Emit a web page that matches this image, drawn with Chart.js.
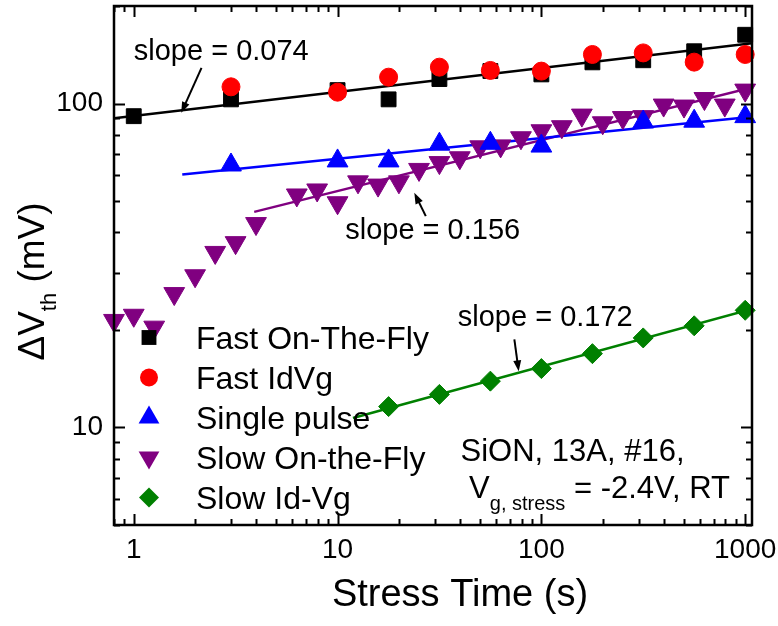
<!DOCTYPE html>
<html>
<head>
<meta charset="utf-8">
<script src="https://cdn.jsdelivr.net/npm/chart.js@4.4.0/dist/chart.umd.min.js"></script>
<style>
  html, body { margin: 0; padding: 0; background: #fff; }
  #wrap { width: 778px; height: 626px; }
</style>
</head>
<body>
<div id="wrap"><canvas id="chart" width="778" height="626"></canvas></div>
<script>
const FONT = '"Liberation Sans", Arial, Helvetica, sans-serif';

// stress time (s) and threshold shift (mV)
const tFast = [1, 3, 10, 17.8, 31.6, 56.2, 100, 178, 316, 562, 1000];
const fastOtf = [91.4, 103, 110, 103, 119, 126, 123, 134, 136, 145, 163];

const tFastIdVg = [3, 10, 17.8, 31.6, 56.2, 100, 178, 316, 562, 1000];
const fastIdVg = [112.6, 108.4, 120.6, 129.5, 126.5, 125.9, 141.7, 143.3, 134.2, 141.7];

const tPulse = [3, 10, 17.8, 31.6, 56.2, 100, 316, 562, 1000];
const singlePulse = [64.6, 66.5, 66.5, 74.9, 75.4, 73.9, 87.7, 88.2, 91.1];

const tSlowOtf = [0.8, 1, 1.26, 1.58, 2, 2.51, 3.16, 3.98, 6.31, 7.94, 10, 12.6, 15.8, 20,
  25.1, 31.6, 39.8, 50.1, 63.1, 79.4, 100, 126, 158, 200, 251, 316, 398, 501, 631, 794, 1000];
const slowOtf = [21.4, 22.2, 20.4, 25.9, 29.4, 34.7, 37.2, 42.6, 52.2, 54.1, 49.4, 57.3, 56.0, 57.3,
  62.6, 65.7, 68.0, 73.5, 74.0, 78.4, 82.4, 84.8, 92.1, 87.2, 90.5, 91.1, 98.9, 98.2, 103.6, 98.9, 110];

const tSlowIdVg = [17.8, 31.6, 56.2, 100, 178, 316, 562, 1000];
const slowIdVg = [11.6, 12.65, 13.9, 15.2, 16.9, 18.9, 20.6, 23.0];

// end points of the power-law fit lines
const fitFastT = [0.8, 1080], fitFastV = [90.0, 153.4];
const fitPulseT = [1.73, 1080], fitPulseV = [60.4, 91.0];
const fitSlowT = [3.9, 1080], fitSlowV = [46.3, 112];
const fitSlowIdT = [11.9, 1080], fitSlowIdV = [10.7, 23.2];

const xTickLabels = [1, 10, 100, 1000];
const yTickLabels = [10, 100];

const pts = (xs, ys) => xs.map((x, i) => ({ x: x, y: ys[i] }));

function markerSet(label, xs, ys, color, style, radius, rotation, order) {
  return {
    label: label,
    data: pts(xs, ys),
    showLine: false,
    pointStyle: style,
    pointRadius: radius,
    pointRotation: rotation,
    backgroundColor: color,
    borderColor: color,
    borderWidth: 1,
    clip: false,
    order: order
  };
}

function fitLine(xs, ys, color) {
  return {
    label: '',
    data: pts(xs, ys),
    showLine: true,
    pointRadius: 0,
    borderColor: color,
    borderWidth: 2.5,
    fill: false,
    order: 10
  };
}

function drawMarker(ctx, style, x, y, r, rot, color) {
  ctx.fillStyle = color;
  ctx.beginPath();
  if (style === 'rect') {
    const s = r * Math.SQRT1_2;
    ctx.rect(x - s, y - s, 2 * s, 2 * s);
  } else if (style === 'circle') {
    ctx.arc(x, y, r, 0, Math.PI * 2);
  } else if (style === 'triangle') {
    let a = rot * Math.PI / 180;
    ctx.moveTo(x + Math.sin(a) * r, y - Math.cos(a) * r);
    a += Math.PI * 2 / 3;
    ctx.lineTo(x + Math.sin(a) * r, y - Math.cos(a) * r);
    a += Math.PI * 2 / 3;
    ctx.lineTo(x + Math.sin(a) * r, y - Math.cos(a) * r);
  } else if (style === 'rectRot') {
    ctx.moveTo(x - r, y);
    ctx.lineTo(x, y - r);
    ctx.lineTo(x + r, y);
    ctx.lineTo(x, y + r);
  }
  ctx.closePath();
  ctx.fill();
}

function arrow(ctx, x0, y0, x1, y1) {
  const ang = Math.atan2(y1 - y0, x1 - x0);
  const hl = 11, hw = 4;
  ctx.strokeStyle = '#000';
  ctx.fillStyle = '#000';
  ctx.lineWidth = 2;
  ctx.beginPath();
  ctx.moveTo(x0, y0);
  ctx.lineTo(x1 - Math.cos(ang) * hl * 0.8, y1 - Math.sin(ang) * hl * 0.8);
  ctx.stroke();
  ctx.beginPath();
  ctx.moveTo(x1, y1);
  ctx.lineTo(x1 - Math.cos(ang) * hl - Math.sin(ang) * hw, y1 - Math.sin(ang) * hl + Math.cos(ang) * hw);
  ctx.lineTo(x1 - Math.cos(ang) * hl + Math.sin(ang) * hw, y1 - Math.sin(ang) * hl - Math.cos(ang) * hw);
  ctx.closePath();
  ctx.fill();
}

function logTicks(min, max) {
  const out = [];
  for (let e = Math.floor(Math.log10(min)); e <= Math.ceil(Math.log10(max)); e++) {
    for (let m = 1; m <= 9; m++) {
      const v = m * Math.pow(10, e);
      if (v >= min * 0.9999 && v <= max * 1.0001) out.push({ v: v, major: m === 1 });
    }
  }
  return out;
}

// annotations, anchored in data coordinates
const slopeNotes = [
  { text: 'slope = 0.074', tx: 1.0, ty: 136.7, from: [2.15, 128.9], to: [1.71, 93.6] },
  { text: 'slope = 0.156', tx: 10.9, ty: 38.3, from: [27.1, 44.9], to: [23.8, 53.0] },
  { text: 'slope = 0.172', tx: 38.9, ty: 20.6, from: [73.7, 18.7], to: [77.4, 14.9] }
];

const decorations = {
  id: 'decorations',
  afterDraw(chart) {
    const ctx = chart.ctx;
    const xs = chart.scales.x, ys = chart.scales.y;
    const a = chart.chartArea;
    ctx.save();

    // inward ticks on all four sides
    ctx.strokeStyle = '#000';
    ctx.lineWidth = 2;
    ctx.beginPath();
    logTicks(xs.min, xs.max).forEach(t => {
      const px = Math.round(xs.getPixelForValue(t.v)) + 0.5;
      const len = t.major ? 11 : 6;
      ctx.moveTo(px, a.bottom); ctx.lineTo(px, a.bottom - len);
      ctx.moveTo(px, a.top); ctx.lineTo(px, a.top + len);
    });
    logTicks(ys.min, ys.max).forEach(t => {
      const py = Math.round(ys.getPixelForValue(t.v)) + 0.5;
      const len = t.major ? 11 : 6;
      ctx.moveTo(a.left, py); ctx.lineTo(a.left + len, py);
      ctx.moveTo(a.right, py); ctx.lineTo(a.right - len, py);
    });
    ctx.stroke();

    // frame
    ctx.lineWidth = 2.5;
    ctx.strokeRect(a.left, a.top, a.right - a.left, a.bottom - a.top);

    // legend
    const markers = chart.data.datasets.slice(0, 5);
    ctx.font = '32px ' + FONT;
    ctx.textAlign = 'left';
    ctx.textBaseline = 'alphabetic';
    markers.forEach((ds, i) => {
      const ry = a.top + 331.5 + i * 40;
      drawMarker(ctx, ds.pointStyle, a.left + 35, ry, ds.pointRadius, ds.pointRotation || 0, ds.backgroundColor);
      ctx.fillStyle = '#000';
      ctx.fillText(ds.label, a.left + 82, ry + 11);
    });

    // slope annotations
    ctx.font = '29px ' + FONT;
    slopeNotes.forEach(n => {
      ctx.fillStyle = '#000';
      ctx.fillText(n.text, xs.getPixelForValue(n.tx), ys.getPixelForValue(n.ty));
      arrow(ctx, xs.getPixelForValue(n.from[0]), ys.getPixelForValue(n.from[1]),
        xs.getPixelForValue(n.to[0]), ys.getPixelForValue(n.to[1]));
    });

    // sample conditions
    ctx.fillStyle = '#000';
    ctx.font = '31px ' + FONT;
    ctx.fillText('SiON, 13A, #16,', xs.getPixelForValue(40.1), ys.getPixelForValue(7.87));
    let cx = xs.getPixelForValue(44.2);
    const cy = ys.getPixelForValue(6.07);
    ctx.fillText('V', cx, cy);
    cx += ctx.measureText('V').width;
    ctx.font = '20px ' + FONT;
    ctx.fillText('g, stress', cx, cy + 12);
    cx += ctx.measureText('g, stress').width;
    ctx.font = '31px ' + FONT;
    ctx.fillText(' = -2.4V, RT', cx, cy);

    // x axis title
    ctx.font = '38px ' + FONT;
    ctx.textAlign = 'center';
    ctx.fillText('Stress Time (s)', (a.left + a.right) / 2 + 27, 606);

    // y axis title with subscript
    ctx.textAlign = 'left';
    const big = '37px ' + FONT, small = '22px ' + FONT;
    ctx.font = big;
    const w1 = ctx.measureText('\u0394V').width, w3 = ctx.measureText(' (mV)').width;
    ctx.font = small;
    const w2 = ctx.measureText('th').width;
    const total = w1 + w2 + w3;
    ctx.translate(44, (a.top + a.bottom) / 2 + 16);
    ctx.rotate(-Math.PI / 2);
    let tx = -total / 2;
    ctx.font = big;
    ctx.fillText('\u0394V', tx, 0);
    tx += w1;
    ctx.font = small;
    ctx.fillText('th', tx, 12);
    tx += w2;
    ctx.font = big;
    ctx.fillText(' (mV)', tx, 0);

    ctx.restore();
  }
};

const isLabelled = (v, list) => list.some(t => Math.abs(t - v) / t < 1e-6);

new Chart(document.getElementById('chart').getContext('2d'), {
  type: 'scatter',
  data: {
    datasets: [
      markerSet('Fast On-The-Fly', tFast, fastOtf, '#000000', 'rect', 10.5, 0, 6),
      markerSet('Fast IdVg', tFastIdVg, fastIdVg, '#ff0000', 'circle', 9, 0, 5),
      markerSet('Single pulse', tPulse, singlePulse, '#0000ff', 'triangle', 12, 0, 3),
      markerSet('Slow On-the-Fly', tSlowOtf, slowOtf, '#800080', 'triangle', 12, 180, 4),
      markerSet('Slow Id-Vg', tSlowIdVg, slowIdVg, '#008000', 'rectRot', 10, 0, 2),
      fitLine(fitFastT, fitFastV, '#000000'),
      fitLine(fitPulseT, fitPulseV, '#0000ff'),
      fitLine(fitSlowT, fitSlowV, '#800080'),
      fitLine(fitSlowIdT, fitSlowIdV, '#008000')
    ]
  },
  options: {
    responsive: false,
    animation: false,
    events: [],
    layout: { autoPadding: false, padding: { top: 6, right: 26, left: 0, bottom: 0 } },
    plugins: { legend: { display: false }, tooltip: { enabled: false } },
    scales: {
      x: {
        type: 'logarithmic',
        min: 0.8,
        max: 1080,
        grid: { display: false, drawTicks: false },
        border: { display: false },
        ticks: {
          autoSkip: false,
          maxRotation: 0,
          padding: 8,
          color: '#000',
          font: { family: FONT, size: 28 },
          callback: v => isLabelled(v, xTickLabels) ? String(v) : ''
        },
        afterFit: s => { s.height = 101; s.paddingLeft = 0; s.paddingRight = 0; }
      },
      y: {
        type: 'logarithmic',
        min: 5,
        max: 200,
        grid: { display: false, drawTicks: false },
        border: { display: false },
        ticks: {
          autoSkip: false,
          padding: 11,
          color: '#000',
          font: { family: FONT, size: 28 },
          callback: v => isLabelled(v, yTickLabels) ? String(v) : ''
        },
        afterFit: s => { s.width = 114; s.paddingTop = 0; s.paddingBottom = 0; }
      }
    }
  },
  plugins: [decorations]
});
</script>
</body>
</html>
